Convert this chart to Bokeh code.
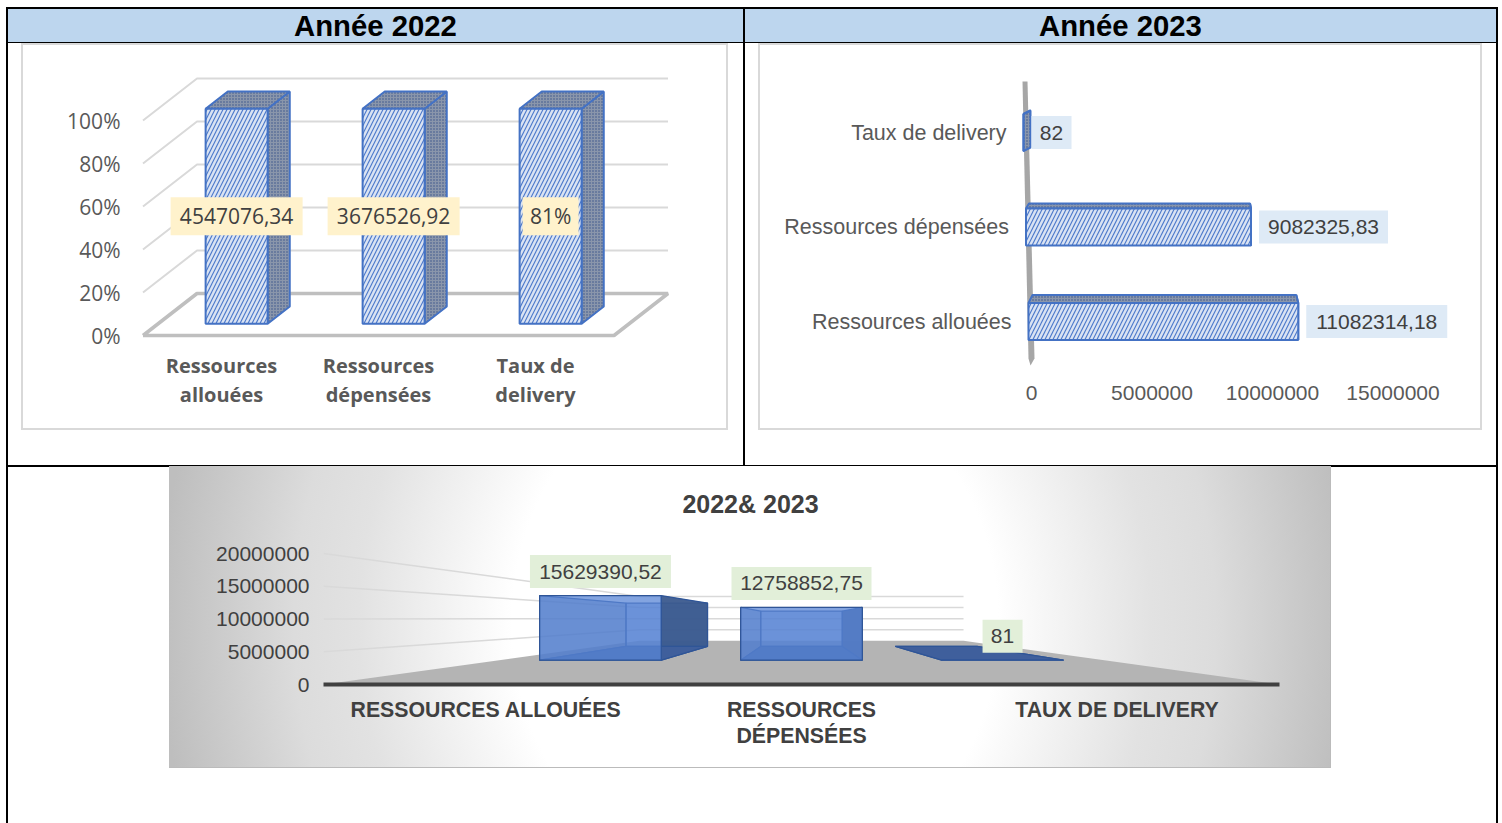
from bokeh.plotting import figure
from bokeh.layouts import column, row
from bokeh.models import Range1d, FixedTicker, PrintfTickFormatter, Div
from bokeh.core.properties import value
from bokeh.embed import file_html
from bokeh.resources import INLINE

# ---------- data ----------
categories_a = ["Ressources\nallouées", "Ressources\ndépensées", "Taux de\ndelivery"]
shares_2022 = [100, 100, 100]
labels_2022 = ["4547076,34", "3676526,92", "81%"]
pct_ticks = [0, 20, 40, 60, 80, 100]

categories_b = ["Ressources allouées", "Ressources dépensées", "Taux de delivery"]
values_2023 = [11082314.18, 9082325.83, 82]
labels_2023 = ["11082314,18", "9082325,83", "82"]
ticks_2023 = [0, 5000000, 10000000, 15000000]

title_c = "2022& 2023"
categories_c = ["RESSOURCES ALLOUÉES", "RESSOURCES\nDÉPENSÉES", "TAUX DE DELIVERY"]
values_total = [15629390.52, 12758852.75, 81]
labels_total = ["15629390,52", "12758852,75", "81"]
ticks_total = [0, 5000000, 10000000, 15000000, 20000000]

BLUE = "#4472C4"
BAND = "#BDD6EE"
TICK = "#595959"
DARK = "#404040"
OS = "Open Sans"
AR = "Liberation Sans"
CHART_OUTLINE = {"outline": "2px solid #D9D9D9", "outline-offset": "-2px"}


def base(w, h, xr, yr, l, r, t, b):
    p = figure(width=w, height=h, x_range=xr, y_range=yr, output_backend="svg",
               toolbar_location=None, min_border_left=l, min_border_right=r,
               min_border_top=t, min_border_bottom=b, outline_line_color=None,
               tools="", frame_align=False)
    p.grid.visible = False
    p.border_fill_alpha = 0
    p.background_fill_alpha = 0
    for ax in list(p.xaxis) + list(p.yaxis):
        ax.axis_line_color = None
        ax.major_tick_line_color = None
        ax.minor_tick_line_color = None
        ax.major_tick_out = 0
        ax.major_tick_in = 0
    return p


def rule(w, h):
    return Div(text="", width=w, height=h, margin=0,
               styles={"background": "#000000", "overflow": "hidden"})


def band(text, w):
    return Div(text=text, width=w, height=33, margin=0,
               styles={"background": BAND, "text-align": "center", "color": "#000000",
                       "font-family": AR, "font-weight": "bold", "font-size": "29.3px",
                       "line-height": "34px", "overflow": "hidden"})


MESH = dict(fill_color="#8A96AB", line_color=BLUE, line_width=2, hatch_pattern="dot",
            hatch_color="#35528A", hatch_scale=3, hatch_weight=1)
STRIPE = dict(fill_color="#DAE3F3", line_color=BLUE, line_width=2,
              hatch_pattern="right_diagonal_line", hatch_color="#4F7BCB", hatch_scale=8,
              hatch_weight=1.2)

# ---------- chart A : 3D columns, 100 % ----------
A_UNIT, A_PCT = 157, 2.15             # px per category, px per percent
A_DX, A_DY = 54 / A_UNIT, 42 / A_PCT  # floor depth
A_HALF = 31 / A_UNIT
A_F, A_B = 0.28, 0.69                 # bar depth slots
xa = Range1d(-14.5 / A_UNIT, (672 - 142.5) / A_UNIT)
ya = Range1d(-5 / A_PCT, 100 + 60 / A_PCT)
pa = base(707, 387, xa, ya, 107, 56, 17, 90)
pa.styles = CHART_OUTLINE
pa.margin = (0, 15, 35, 13)


def A(x, v, d):
    return x + d * A_DX, v + d * A_DY


pos_a = [0.5, 1.5, 2.5]
pa.xaxis.ticker = FixedTicker(ticks=pos_a)
pa.xaxis.major_label_overrides = dict(zip(pos_a, categories_a))
pa.xaxis.major_label_text_font = OS
pa.xaxis.major_label_text_font_style = "bold"
pa.xaxis.major_label_text_font_size = "20px"
pa.xaxis.major_label_text_color = TICK
pa.xaxis.major_label_text_line_height = 1.08
pa.xaxis.major_label_standoff = 11
pa.yaxis.ticker = FixedTicker(ticks=pct_ticks)
pa.yaxis.formatter = PrintfTickFormatter(format="%d%%")
pa.yaxis.major_label_text_font = OS
pa.yaxis.major_label_text_font_size = "21px"
pa.yaxis.major_label_text_color = TICK
pa.yaxis.major_label_standoff = 8

wx, wy = [], []
for t in pct_ticks[1:]:
    x0, y0 = A(0, t, 0)
    x1, y1 = A(0, t, 1)
    x2, y2 = A(3, t, 1)
    wx.append([x0, x1, x2])
    wy.append([y0, y1, y2])
pa.multi_line(wx, wy, line_color="#D9D9D9", line_width=2)
fx = [A(0, 0, 0)[0], A(3, 0, 0)[0], A(3, 0, 1)[0], A(0, 0, 1)[0], A(0, 0, 0)[0]]
fy = [A(0, 0, 0)[1], A(3, 0, 0)[1], A(3, 0, 1)[1], A(0, 0, 1)[1], A(0, 0, 0)[1]]
pa.line(fx, fy, line_color="#BFBFBF", line_width=3.5)

for x, h in zip(pos_a, shares_2022):
    l, r = x - A_HALF, x + A_HALF
    fl = A(l, 0, A_F); fr = A(r, 0, A_F); tl = A(l, h, A_F); tr = A(r, h, A_F)
    br = A(r, 0, A_B); btr = A(r, h, A_B); btl = A(l, h, A_B)
    pa.patch([fr[0], br[0], btr[0], tr[0]], [fr[1], br[1], btr[1], tr[1]], **MESH)
    pa.patch([tl[0], tr[0], btr[0], btl[0]], [tl[1], tr[1], btr[1], btl[1]], **MESH)
    pa.patch([fl[0], fr[0], tr[0], tl[0]], [fl[1], fr[1], tr[1], tl[1]], **STRIPE)
lx = [A(x, h / 2, A_F)[0] for x, h in zip(pos_a, shares_2022)]
ly = [A(x, h / 2, A_F)[1] for x, h in zip(pos_a, shares_2022)]
pa.rect(lx, ly, width=[132, 132, 56], height=38, width_units="screen", height_units="screen",
        fill_color="#FFF2CC", line_color=None)
pa.text(lx, ly, text=labels_2022, text_font=value(OS), text_font_size="21px", text_color=DARK,
        text_align="center", text_baseline="middle")

# ---------- chart B : 3D horizontal bars ----------
VPP = 5000000 / 120.5     # value per px
ROW = 94.5                # px per row
xb = Range1d(-(1031 - 760) * VPP, (1480 - 1031) * VPP)
yb = Range1d(-54 / ROW, 271 / ROW)
pb = base(724, 387, xb, yb, 2, 2, 7, 55)
pb.styles = CHART_OUTLINE
pb.margin = (0, 14, 35, 13)
pb.yaxis.visible = False
pb.xaxis.ticker = FixedTicker(ticks=ticks_2023)
pb.xaxis.formatter = PrintfTickFormatter(format="%d")
pb.xaxis.major_label_text_font = AR
pb.xaxis.major_label_text_font_size = "21px"
pb.xaxis.major_label_text_color = TICK
pb.xaxis.major_label_standoff = 10

wall_x = [-9, -4, 3, -1, -3]
wall_y = [240, 240, -37, -44, -37]
pb.patch([q * VPP for q in wall_x], [q / ROW for q in wall_y], fill_color="#A6A6A6", line_color=None)
B_STRETCH = [1.01, 1.028, 1.0]
B_HALF = 18.5 / ROW
depth_dy = [8, 5, 3.5]
depth_l = [4, 3, 7]
depth_r = [-2, -1, 7]
box_w_b = [141, 129, 40]
ends, starts, centers = [], [], []
for r, v in enumerate(values_2023):
    s = (-3 - 2.5 * r) * VPP
    e = s + v * B_STRETCH[r]
    starts.append(s)
    ends.append(e)
    centers.append(e + (8 + box_w_b[r] / 2) * VPP)
    dy = depth_dy[r] / ROW
    dl, dr = depth_l[r] * VPP, depth_r[r] * VPP
    top = r + B_HALF
    bot = r - B_HALF
    pb.patch([e, e + dr, e + dr, e], [bot, bot + dy, top + dy, top], **MESH)
    pb.patch([s, e, e + dr, s + dl], [top, top, top + dy, top + dy], **MESH)
    pb.patch([s, e, e, s], [bot, bot, top, top], **STRIPE)
rows = [0, 1, 2]
pb.rect(centers, rows, width=box_w_b, height=33, width_units="screen", height_units="screen",
        fill_color="#DEEAF6", line_color=None)
pb.text(centers, rows, text=labels_2023, text_font=value(AR), text_font_size="21px",
        text_color=DARK, text_align="center", text_baseline="middle")
pb.text(starts, rows, text=categories_b, x_offset=-17, text_font=value(AR), text_font_size="21.5px",
        text_color=TICK, text_align="right", text_baseline="middle")

# ---------- chart C : perspective columns ----------
K = 1.95
XC, VC = 1.5, 10.08e6
C_F, C_B = 0.30, 0.70
C_HALF = 0.3025
C_VPP = 20000000 / 131
C_UNIT = 956 / 3


def C(x, v, d):
    s = 1 / (1 + K * d)
    return XC + (x - XC) * s, VC + (v - VC) * s


pc = base(1162, 302, Range1d(0, 3), Range1d(0, (684 - 470) * C_VPP), 154, 52, 4, 84)
pc.styles = {"background": "radial-gradient(ellipse 640px 700px at 586px 52%, #FFFFFF 38%, #E2E2E2 62%, #DCDCDC 72%, #BEBEBE 93%)",
             "box-shadow": "inset 0 -1px 0 #BBBBBB, inset -1px 0 0 #BBBBBB"}
pc.margin = (-1, 165, 0, 161)
pos_c = [0.5, 1.5, 2.5]
tick_c = [0.51, 1.5, 2.49]
pc.xaxis.ticker = FixedTicker(ticks=tick_c)
pc.xaxis.major_label_overrides = dict(zip(tick_c, categories_c))
pc.xaxis.major_label_text_font = AR
pc.xaxis.major_label_text_font_style = "bold"
pc.xaxis.major_label_text_font_size = "21.3px"
pc.xaxis.major_label_text_color = DARK
pc.xaxis.major_label_text_line_height = 1.11
pc.xaxis.major_label_standoff = 13
pc.xaxis.axis_line_color = DARK
pc.xaxis.axis_line_width = 4
pc.yaxis.ticker = FixedTicker(ticks=ticks_total)
pc.yaxis.formatter = PrintfTickFormatter(format="%d")
pc.yaxis.major_label_text_font = AR
pc.yaxis.major_label_text_font_size = "21px"
pc.yaxis.major_label_text_color = DARK
pc.yaxis.major_label_standoff = 14

pc.text([(750 - 323) / C_UNIT], [(684 - 503) * C_VPP], text=[title_c], text_font=value(AR),
        text_font_size="25px", text_font_style="bold", text_color=DARK,
        text_align="center", text_baseline="middle")

fl = [C(0, 0, 0), C(3, 0, 0), C(3, 0, 1), C(0, 0, 1)]
pc.patch([q[0] for q in fl], [q[1] for q in fl], fill_color="#B4B4B4", line_color=None)
gx, gy = [], []
for t in ticks_total[1:]:
    a, b, c = C(0, t, 0), C(0, t, 1), C(3, t, 1)
    gx.append([a[0], b[0], c[0]])
    gy.append([a[1], b[1], c[1]])
pc.multi_line(gx, gy, line_color="#D9D9D9", line_width=1.5)

lab_x, lab_y = [], []
for x, v in zip(pos_c, values_total):
    l, r = x - C_HALF, x + C_HALF
    corners = {k: C(*k) for k in [(l, 0, C_F), (r, 0, C_F), (l, v, C_F), (r, v, C_F),
                                  (l, 0, C_B), (r, 0, C_B), (l, v, C_B), (r, v, C_B)]}

    def face(keys, **kw):
        pc.patch([corners[k][0] for k in keys], [corners[k][1] for k in keys], **kw)

    edge = dict(line_color="#2F5597", line_width=1.2)
    face([(l, 0, C_B), (r, 0, C_B), (r, v, C_B), (l, v, C_B)], fill_color=BLUE, fill_alpha=0.5, **edge)
    face([(l, 0, C_F), (l, 0, C_B), (l, v, C_B), (l, v, C_F)], fill_color="#2F5597", fill_alpha=0.5, **edge)
    face([(r, 0, C_F), (r, 0, C_B), (r, v, C_B), (r, v, C_F)], fill_color="#3B5A8E", fill_alpha=0.95, **edge)
    face([(l, 0, C_F), (r, 0, C_F), (r, 0, C_B), (l, 0, C_B)], fill_color="#3F5F9C", fill_alpha=1, **edge)
    face([(l, 0, C_F), (r, 0, C_F), (r, v, C_F), (l, v, C_F)], fill_color="#5A86D6", fill_alpha=0.75, **edge)
    q = C(x, v, C_F)
    lab_x.append(q[0])
    lab_y.append(q[1] + 24 * C_VPP)
pc.rect(lab_x, lab_y, width=[141, 140, 40], height=33, width_units="screen", height_units="screen",
        fill_color="#E2EFD9", line_color=None)
pc.text(lab_x, lab_y, text=labels_total, text_font=value(AR), text_font_size="21px",
        text_color=DARK, text_align="center", text_baseline="middle")

# ---------- table frame ----------
cell_a = column(band("Année 2022", 735), rule(735, 1), pa, spacing=0)
cell_b = column(band("Année 2023", 751), rule(751, 1), pb, spacing=0)
top_row = row(rule(2, 456), cell_a, rule(2, 456), cell_b, rule(2, 456), spacing=0)
bottom_row = row(rule(2, 356), pc, rule(2, 356), spacing=0)
root = column(rule(1492, 2), top_row, rule(1492, 2), bottom_row, spacing=0, margin=(7, 0, 0, 6))

open("out.html", "w").write(file_html(root, INLINE))
